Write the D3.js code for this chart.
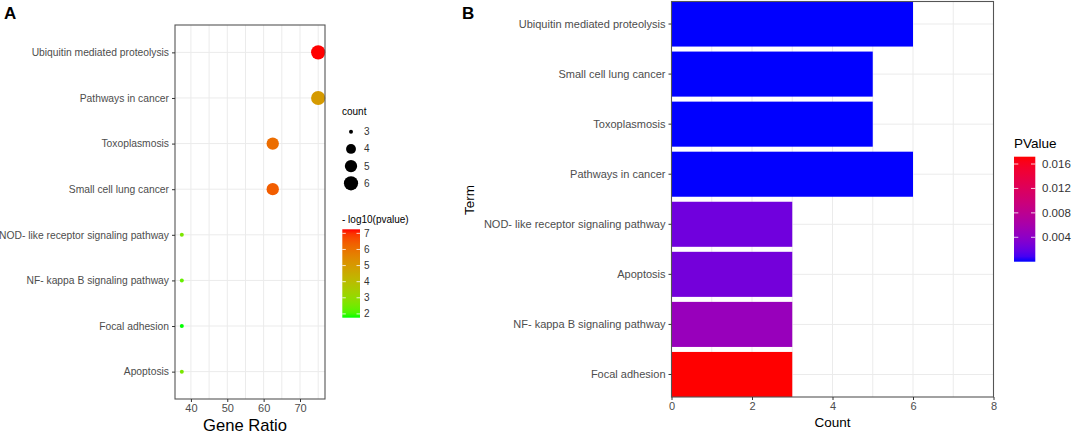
<!DOCTYPE html>
<html lang="en">
  <head>
    <meta charset="utf-8">
    <style>
      body{ margin:0; background:#fff; }
      text{ font-family: "Liberation Sans", Arial, sans-serif; }
      .grid line{ stroke:#ebebeb; stroke-width:1; }
      .axis path{ display:none; }
      .axis line{ stroke:#333; }
      .axis text{ fill:#4d4d4d; }
    </style>
  </head>
  <body>
    <script src="https://d3js.org/d3.v7.min.js"></script>
    <script>
      // data, panel A order
      var terms = ["Ubiquitin mediated proteolysis", "Pathways in cancer", "Toxoplasmosis",
                   "Small cell lung cancer", "NOD- like receptor signaling pathway",
                   "NF- kappa B signaling pathway", "Focal adhesion", "Apoptosis"];
      var geneRatio = [75, 75, 62.5, 62.5, 37.5, 37.5, 37.5, 37.5];
      var counts = [6, 6, 5, 5, 3, 3, 3, 3];
      var pValues = [5.6e-8, 1.0e-5, 7.9e-7, 4.0e-7, 0.0024, 0.0048, 0.0172, 0.0026];

      // panel B order
      var termsB = ["Ubiquitin mediated proteolysis", "Small cell lung cancer", "Toxoplasmosis",
                    "Pathways in cancer", "NOD- like receptor signaling pathway", "Apoptosis",
                    "NF- kappa B signaling pathway", "Focal adhesion"];

      var ratioTicks = [40, 50, 60, 70],
          ratioMinor = [45, 55, 65, 75],
          countTicks = [0, 2, 4, 6, 8],
          countMinor = [1, 3, 5, 7],
          logTicks = [2, 3, 4, 5, 6, 7],
          pTicks = [0.004, 0.008, 0.012, 0.016],
          sizeLegend = [3, 4, 5, 6];

      var rows = terms.map(function(t, i){
          return {term: t, ratio: geneRatio[i], count: counts[i], p: pValues[i], lp: -Math.log10(pValues[i])};
      });
      var byTerm = {};
      rows.forEach(function(d){ byTerm[d.term] = d; });

      var svg = d3.select("body").append("svg")
          .attr("width", 1072).attr("height", 434);

      // ******** PANEL A ********
      var A = {left:175, right:325, top:25, bottom:399};

      var x = d3.scaleLinear().domain([35.625, 76.875]).range([A.left, A.right]);
      var y = d3.scalePoint().domain(terms).range([A.top, A.bottom]).padding(0.6);
      var lpExtent = d3.extent(rows, function(d){ return d.lp; });
      var colA = d3.scaleLinear().domain(lpExtent).range(["#00ff00", "#ff0000"])
          .interpolate(d3.interpolateLab);
      // area-like size mapping (ggplot scale_size)
      var rScale = d3.scaleLinear().domain([0, 1]).range([2, 7.1]);
      function radius(c){ return rScale(Math.sqrt((c - 3) / 3)); }

      var gA = svg.append("g");
      var gridA = gA.append("g").attr("class", "grid");
      gridA.selectAll("line.v").data(ratioTicks.concat(ratioMinor)).enter().append("line")
          .attr("x1", x).attr("x2", x).attr("y1", A.top).attr("y2", A.bottom);
      gridA.selectAll("line.h").data(terms).enter().append("line")
          .attr("x1", A.left).attr("x2", A.right).attr("y1", y).attr("y2", y);

      gA.append("g").selectAll("circle").data(rows).enter().append("circle")
          .attr("cx", function(d){ return x(d.ratio); })
          .attr("cy", function(d){ return y(d.term); })
          .attr("r", function(d){ return radius(d.count); })
          .attr("fill", function(d){ return colA(d.lp); });

      gA.append("rect").attr("x", A.left).attr("y", A.top)
          .attr("width", A.right - A.left).attr("height", A.bottom - A.top)
          .attr("fill", "none").attr("stroke", "#555").attr("stroke-width", 1.1);

      gA.append("g").attr("class", "axis")
          .attr("transform", "translate(0," + A.bottom + ")")
          .call(d3.axisBottom(x).tickValues(ratioTicks).tickSize(3).tickPadding(2))
          .selectAll("text").style("font-size", "11px");
      gA.append("g").attr("class", "axis")
          .attr("transform", "translate(" + A.left + ",0)")
          .call(d3.axisLeft(y).tickSize(3).tickPadding(3))
          .selectAll("text").style("font-size", "10.3px");

      gA.append("text").attr("x", 245).attr("y", 431)
          .attr("text-anchor", "middle").style("font-size", "16.6px").text("Gene Ratio");
      svg.append("text").attr("x", 4).attr("y", 19)
          .style("font-size", "17px").style("font-weight", "bold").text("A");

      // legend: count
      var legA = svg.append("g");
      legA.append("text").attr("x", 342).attr("y", 115).style("font-size", "10px").text("count");
      var sizeY = d3.scalePoint().domain(sizeLegend).range([131.7, 183.3]);
      legA.selectAll("circle").data(sizeLegend).enter().append("circle")
          .attr("cx", 351).attr("cy", sizeY).attr("r", radius).attr("fill", "#000");
      legA.selectAll("text.lab").data(sizeLegend).enter().append("text")
          .attr("x", 364).attr("y", function(d){ return sizeY(d) + 3.5; })
          .style("font-size", "10px").style("fill", "#333").text(function(d){ return d; });

      // legend: -log10(pvalue)
      legA.append("text").attr("x", 342).attr("y", 223).style("font-size", "10px").text("- log10(pvalue)");
      var barAy = d3.scaleLinear().domain(lpExtent).range([317.7, 229.3]);
      var defs = svg.append("defs");
      function gradient(id, scale, dom){
          var g = defs.append("linearGradient").attr("id", id)
              .attr("x1", 0).attr("x2", 0).attr("y1", 1).attr("y2", 0);
          d3.range(0, 1.0001, 0.05).forEach(function(t){
              g.append("stop").attr("offset", t)
                  .attr("stop-color", scale(dom[0] + t * (dom[1] - dom[0])));
          });
      }
      gradient("gradA", colA, lpExtent);
      legA.append("rect").attr("x", 342.3).attr("y", 229.3).attr("width", 17.7).attr("height", 88.4)
          .attr("fill", "url(#gradA)");
      legA.selectAll("line.tk").data(logTicks).enter().append("g").each(function(d){
          var g = d3.select(this), yy = barAy(d);
          g.append("line").attr("x1", 342.3).attr("x2", 345.8).attr("y1", yy).attr("y2", yy)
              .attr("stroke", "#fff").attr("stroke-width", 0.8);
          g.append("line").attr("x1", 356.5).attr("x2", 360).attr("y1", yy).attr("y2", yy)
              .attr("stroke", "#fff").attr("stroke-width", 0.8);
          g.append("text").attr("x", 364).attr("y", yy + 3.5).style("font-size", "10px")
              .style("fill", "#333").text(d);
      });

      // ******** PANEL B ********
      var B = {left:671.5, right:993.5, top:1.5, bottom:397};
      var xB = d3.scaleLinear().domain([0, 8]).range([B.left, B.right]);
      var yB = d3.scaleBand().domain(termsB).range([B.top, B.bottom]).paddingInner(0.1).paddingOuter(0);
      var pExtent = d3.extent(rows, function(d){ return d.p; });
      var colB = d3.scaleLinear().domain(pExtent).range(["#0000ff", "#ff0000"])
          .interpolate(d3.interpolateLab);

      var gB = svg.append("g");
      var gridB = gB.append("g").attr("class", "grid");
      gridB.selectAll("line.v").data(countTicks.concat(countMinor)).enter().append("line")
          .attr("x1", xB).attr("x2", xB).attr("y1", B.top).attr("y2", B.bottom);
      gridB.selectAll("line.h").data(termsB).enter().append("line")
          .attr("x1", B.left).attr("x2", B.right)
          .attr("y1", function(d){ return yB(d) + yB.bandwidth() / 2; })
          .attr("y2", function(d){ return yB(d) + yB.bandwidth() / 2; });

      gB.append("g").selectAll("rect").data(termsB).enter().append("rect")
          .attr("x", xB(0))
          .attr("y", function(d){ return yB(d); })
          .attr("height", yB.bandwidth())
          .attr("width", function(d){ return xB(byTerm[d].count) - xB(0); })
          .attr("fill", function(d){ return colB(byTerm[d].p); });

      gB.append("rect").attr("x", B.left).attr("y", B.top)
          .attr("width", B.right - B.left).attr("height", B.bottom - B.top)
          .attr("fill", "none").attr("stroke", "#555").attr("stroke-width", 1.1);

      gB.append("g").attr("class", "axis")
          .attr("transform", "translate(0," + B.bottom + ")")
          .call(d3.axisBottom(xB).tickValues(countTicks).tickSize(3).tickPadding(2))
          .selectAll("text").style("font-size", "11px");
      gB.append("g").attr("class", "axis")
          .attr("transform", "translate(" + B.left + ",0)")
          .call(d3.axisLeft(yB).tickSize(3).tickPadding(3))
          .selectAll("text").style("font-size", "11px");

      gB.append("text").attr("x", (B.left + B.right) / 2).attr("y", 427)
          .attr("text-anchor", "middle").style("font-size", "13.5px").text("Count");
      gB.append("text").attr("transform", "translate(474,200) rotate(-90)")
          .attr("text-anchor", "middle").style("font-size", "13.5px").text("Term");
      svg.append("text").attr("x", 462).attr("y", 19)
          .style("font-size", "17px").style("font-weight", "bold").text("B");

      // legend: PValue
      var legB = svg.append("g");
      legB.append("text").attr("x", 1014).attr("y", 148).style("font-size", "13.5px").text("PValue");
      gradient("gradB", colB, pExtent);
      var barBy = d3.scaleLinear().domain(pExtent).range([261.7, 156.7]);
      legB.append("rect").attr("x", 1014).attr("y", 156.7).attr("width", 21.3).attr("height", 105)
          .attr("fill", "url(#gradB)");
      legB.selectAll("g.tk").data(pTicks).enter().append("g").each(function(d){
          var g = d3.select(this), yy = barBy(d);
          g.append("line").attr("x1", 1014).attr("x2", 1018.3).attr("y1", yy).attr("y2", yy)
              .attr("stroke", "#fff").attr("stroke-width", 0.8);
          g.append("line").attr("x1", 1031).attr("x2", 1035.3).attr("y1", yy).attr("y2", yy)
              .attr("stroke", "#fff").attr("stroke-width", 0.8);
          g.append("text").attr("x", 1042).attr("y", yy + 4).style("font-size", "11.5px")
              .style("fill", "#333").text(d3.format(".3f")(d));
      });
    </script>
  </body>
</html>
